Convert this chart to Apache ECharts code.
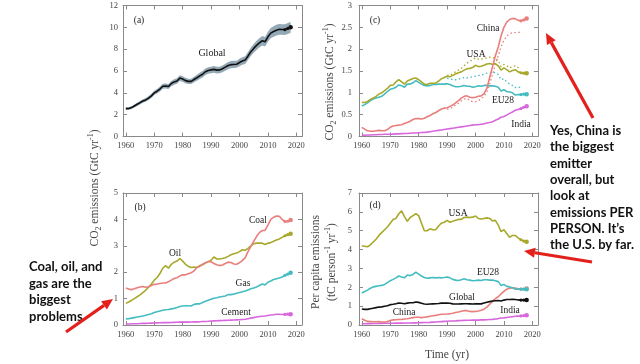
<!DOCTYPE html>
<html><head><meta charset="utf-8">
<script src="https://cdn.jsdelivr.net/npm/echarts@6/dist/echarts.min.js"></script>
<style>html,body{margin:0;padding:0;background:#fff}#c{width:640px;height:364px}</style>
</head><body><div id="c"></div>
<script>
// ---- data ----
const firstYear = 1960, lastYear = 2018;
const years = []; for (let y = firstYear; y <= lastYear; y++) years.push(y);
const consYears = []; for (let y = 1990; y <= 2016; y++) consYears.push(y);
const xTicks = [1960, 1970, 1980, 1990, 2000, 2010, 2020];

// (a) global fossil CO2 emissions, GtC/yr
const globalTotal = [2.55,2.56,2.65,2.80,2.95,3.10,3.25,3.35,3.52,3.72,4.00,4.15,4.35,4.60,4.62,4.58,4.85,5.00,5.08,5.35,5.27,5.12,5.05,5.05,5.22,5.38,5.55,5.70,5.93,6.05,6.10,6.15,6.08,6.10,6.20,6.35,6.50,6.58,6.60,6.62,6.78,6.92,7.00,7.38,7.77,8.07,8.35,8.58,8.77,8.68,9.13,9.47,9.62,9.74,9.82,9.80,9.79,9.90,10.0];
const globalUnc = [0.13,0.13,0.13,0.14,0.15,0.16,0.16,0.17,0.18,0.19,0.20,0.21,0.22,0.23,0.23,0.23,0.24,0.25,0.25,0.27,0.26,0.26,0.25,0.25,0.26,0.27,0.28,0.29,0.30,0.30,0.30,0.31,0.30,0.30,0.31,0.32,0.33,0.33,0.33,0.33,0.34,0.35,0.35,0.37,0.39,0.40,0.42,0.43,0.44,0.43,0.46,0.47,0.48,0.49,0.49,0.49,0.49,0.50,0.50];

// (b) by fuel, GtC/yr
const coal = [1.40,1.36,1.34,1.37,1.41,1.44,1.46,1.43,1.45,1.50,1.54,1.55,1.57,1.59,1.59,1.64,1.70,1.76,1.79,1.86,1.90,1.90,1.94,1.98,2.05,2.18,2.22,2.30,2.36,2.40,2.40,2.33,2.28,2.25,2.27,2.33,2.38,2.37,2.31,2.30,2.36,2.44,2.55,2.78,2.98,3.17,3.35,3.50,3.58,3.58,3.78,4.00,4.08,4.13,4.12,4.00,3.92,3.93,3.98];
const oil = [0.82,0.87,0.93,1.00,1.07,1.14,1.23,1.32,1.43,1.55,1.70,1.80,1.95,2.15,2.25,2.15,2.30,2.38,2.42,2.52,2.42,2.30,2.22,2.18,2.20,2.18,2.25,2.28,2.35,2.40,2.45,2.58,2.50,2.50,2.52,2.55,2.60,2.66,2.70,2.73,2.78,2.85,2.83,2.90,3.00,3.08,3.10,3.10,3.10,3.05,3.10,3.12,3.17,3.22,3.26,3.32,3.38,3.42,3.46];
const gas = [0.23,0.24,0.26,0.28,0.30,0.32,0.34,0.37,0.40,0.43,0.47,0.50,0.53,0.56,0.58,0.59,0.61,0.63,0.66,0.70,0.72,0.73,0.73,0.72,0.78,0.80,0.80,0.85,0.90,0.94,0.98,1.01,1.03,1.06,1.08,1.10,1.15,1.15,1.17,1.20,1.23,1.26,1.29,1.33,1.37,1.40,1.44,1.50,1.55,1.52,1.62,1.67,1.72,1.75,1.78,1.82,1.88,1.93,1.98];
const cement = [0.04,0.04,0.045,0.05,0.05,0.055,0.06,0.06,0.065,0.07,0.075,0.08,0.085,0.09,0.09,0.09,0.095,0.10,0.105,0.11,0.11,0.11,0.11,0.115,0.12,0.12,0.125,0.13,0.135,0.14,0.15,0.155,0.16,0.165,0.17,0.175,0.18,0.185,0.19,0.195,0.20,0.21,0.22,0.24,0.26,0.28,0.30,0.32,0.33,0.34,0.36,0.38,0.39,0.41,0.41,0.40,0.40,0.41,0.41];

// (c) by country, GtC/yr (territorial, solid) and consumption-based (dotted)
const chinaTot = [0.21,0.17,0.13,0.12,0.12,0.13,0.14,0.13,0.13,0.16,0.21,0.24,0.25,0.26,0.27,0.30,0.32,0.35,0.39,0.41,0.41,0.40,0.42,0.45,0.48,0.52,0.55,0.59,0.63,0.65,0.66,0.69,0.72,0.77,0.82,0.88,0.92,0.93,0.90,0.89,0.90,0.92,0.93,0.98,1.10,1.35,1.60,1.85,2.05,2.30,2.50,2.62,2.68,2.70,2.70,2.66,2.65,2.67,2.70];
const usaTot = [0.78,0.78,0.80,0.85,0.88,0.92,0.97,1.00,1.05,1.10,1.17,1.18,1.25,1.30,1.25,1.20,1.27,1.30,1.33,1.34,1.30,1.25,1.20,1.19,1.22,1.22,1.22,1.27,1.32,1.35,1.38,1.37,1.40,1.43,1.46,1.48,1.52,1.55,1.56,1.58,1.63,1.60,1.61,1.63,1.66,1.67,1.65,1.67,1.62,1.52,1.57,1.53,1.48,1.51,1.53,1.48,1.46,1.45,1.45];
const eu28Tot = [0.70,0.73,0.77,0.82,0.86,0.88,0.90,0.92,0.97,1.03,1.08,1.10,1.13,1.18,1.16,1.13,1.20,1.20,1.23,1.28,1.24,1.20,1.17,1.16,1.17,1.19,1.19,1.20,1.20,1.20,1.21,1.19,1.16,1.14,1.14,1.15,1.17,1.15,1.15,1.13,1.14,1.16,1.15,1.17,1.17,1.16,1.16,1.15,1.13,1.04,1.07,1.03,1.02,1.00,0.95,0.96,0.96,0.97,0.97];
const indiaTot = [0.03,0.03,0.035,0.035,0.04,0.04,0.045,0.045,0.05,0.05,0.05,0.055,0.06,0.06,0.065,0.07,0.07,0.075,0.08,0.08,0.085,0.09,0.095,0.10,0.11,0.12,0.13,0.14,0.15,0.16,0.17,0.18,0.19,0.20,0.21,0.22,0.23,0.24,0.25,0.26,0.27,0.27,0.28,0.29,0.31,0.32,0.34,0.37,0.40,0.44,0.46,0.49,0.53,0.56,0.60,0.62,0.64,0.67,0.69];
const chinaCons = [0.62,0.64,0.67,0.72,0.76,0.82,0.86,0.87,0.82,0.80,0.80,0.82,0.86,0.92,1.02,1.20,1.42,1.65,1.85,2.05,2.20,2.30,2.35,2.38,2.38,2.38,2.40];
const usaCons = [1.40,1.40,1.44,1.48,1.52,1.56,1.62,1.68,1.72,1.76,1.80,1.77,1.77,1.78,1.80,1.82,1.80,1.80,1.74,1.60,1.65,1.62,1.57,1.60,1.62,1.58,1.56];
const eu28Cons = [1.33,1.32,1.30,1.30,1.31,1.33,1.35,1.34,1.36,1.36,1.38,1.40,1.40,1.43,1.45,1.45,1.47,1.46,1.42,1.30,1.32,1.25,1.20,1.17,1.12,1.13,1.12];

// (d) per capita, tC/person/yr
const usaPc = [4.20,4.18,4.15,4.25,4.40,4.55,4.75,4.90,5.05,5.20,5.40,5.60,5.65,5.90,6.05,5.75,5.50,5.70,5.80,5.90,5.80,5.40,5.00,5.00,5.10,5.05,5.05,5.25,5.40,5.45,5.55,5.45,5.50,5.55,5.60,5.60,5.70,5.72,5.70,5.72,5.78,5.65,5.62,5.65,5.68,5.65,5.52,5.55,5.30,4.95,5.05,4.85,4.65,4.75,4.75,4.62,4.52,4.45,4.42];
const eu28Pc = [1.70,1.78,1.85,1.95,2.02,2.05,2.08,2.10,2.15,2.25,2.35,2.42,2.50,2.60,2.55,2.50,2.65,2.62,2.68,2.80,2.70,2.60,2.52,2.48,2.50,2.52,2.50,2.52,2.50,2.52,2.55,2.50,2.42,2.38,2.36,2.40,2.45,2.40,2.38,2.35,2.36,2.38,2.36,2.40,2.40,2.38,2.38,2.35,2.30,2.10,2.15,2.05,2.02,1.98,1.90,1.90,1.90,1.90,1.90];
const globalPc = [0.85,0.83,0.83,0.86,0.89,0.92,0.95,0.96,0.99,1.02,1.08,1.10,1.13,1.17,1.15,1.13,1.16,1.18,1.18,1.22,1.20,1.15,1.11,1.10,1.11,1.12,1.13,1.14,1.16,1.17,1.16,1.15,1.12,1.11,1.11,1.12,1.13,1.13,1.12,1.11,1.12,1.12,1.12,1.17,1.21,1.24,1.27,1.29,1.30,1.27,1.32,1.35,1.35,1.36,1.35,1.33,1.32,1.32,1.33];
const chinaPc = [0.33,0.25,0.19,0.18,0.17,0.17,0.18,0.16,0.15,0.19,0.24,0.27,0.28,0.29,0.29,0.32,0.33,0.36,0.39,0.41,0.41,0.39,0.41,0.43,0.46,0.49,0.51,0.54,0.57,0.57,0.58,0.60,0.62,0.66,0.69,0.73,0.76,0.76,0.72,0.71,0.72,0.74,0.78,0.84,0.95,1.10,1.25,1.40,1.50,1.65,1.78,1.90,1.95,1.97,1.96,1.92,1.90,1.91,1.93];
const indiaPc = [0.07,0.07,0.075,0.075,0.08,0.08,0.085,0.085,0.09,0.09,0.09,0.095,0.10,0.10,0.10,0.11,0.11,0.11,0.115,0.115,0.12,0.125,0.13,0.135,0.14,0.15,0.16,0.17,0.18,0.19,0.20,0.21,0.215,0.22,0.23,0.24,0.245,0.25,0.25,0.26,0.26,0.26,0.27,0.27,0.28,0.29,0.30,0.32,0.34,0.37,0.38,0.40,0.42,0.44,0.46,0.47,0.48,0.50,0.52];

// ---- styling ----
const RED = '#e97f7c', OLIVE = '#a8a92c', CYAN = '#45bcc0', MAG = '#d866dc', BLACK = '#111', BAND = '#8ea4b2';
const SERIF = '"Liberation Serif","Times New Roman",serif';
const AX = '#8a8a8a', TXT = '#444';

const grids = [
  {left: 123, top: 5.5, width: 179, height: 131},
  {left: 123, top: 193, width: 179, height: 132},
  {left: 359, top: 5.5, width: 179, height: 131},
  {left: 359, top: 193, width: 179, height: 132}
];
const yRanges = [[0,12,2],[0,5,1],[0,3,0.5],[0,7,1]];
const yMargins = [5,5,7,7];

const xAxes = [], yAxes = [];
for (let i = 0; i < 4; i++) {
  xAxes.push({gridIndex: i, type: 'value', min: 1959, max: 2022,
    axisLine: {show: true, onZero: false, lineStyle: {color: AX, width: 1}},
    axisTick: {show: true, inside: true, length: 4, customValues: xTicks, lineStyle: {color: AX}},
    axisLabel: {customValues: xTicks, formatter: v => String(v), fontFamily: SERIF, fontSize: 8.5, color: TXT, margin: 5},
    splitLine: {show: false}});
}
for (let i = 0; i < 4; i++) {
  xAxes.push({gridIndex: i, type: 'value', position: 'top', min: 1959, max: 2022,
    axisLine: {show: true, onZero: false, lineStyle: {color: AX, width: 1}},
    axisTick: {show: true, inside: true, length: 4, customValues: xTicks, lineStyle: {color: AX}},
    axisLabel: {show: false}, splitLine: {show: false}});
}
for (let i = 0; i < 4; i++) {
  const r = yRanges[i];
  yAxes.push({gridIndex: i, type: 'value', min: r[0], max: r[1], interval: r[2],
    axisLine: {show: true, onZero: false, lineStyle: {color: AX, width: 1}},
    axisTick: {show: true, inside: true, length: 4, lineStyle: {color: AX}},
    axisLabel: {fontFamily: SERIF, fontSize: 8.5, color: TXT, margin: yMargins[i]},
    splitLine: {show: false}});
}
for (let i = 0; i < 4; i++) {
  const r = yRanges[i];
  yAxes.push({gridIndex: i, type: 'value', position: 'right', min: r[0], max: r[1], interval: r[2],
    axisLine: {show: true, onZero: false, lineStyle: {color: AX, width: 1}},
    axisTick: {show: true, inside: true, length: 4, lineStyle: {color: AX}},
    axisLabel: {show: false}, splitLine: {show: false}});
}

function pairs(xs, ys) { return xs.map((x, i) => [x, ys[i]]); }
function line(gi, xs, ys, color, z) {
  const n = ys.length;
  return {type: 'line', xAxisIndex: gi, yAxisIndex: gi, data: pairs(xs, ys),
    symbol: 'circle', showSymbol: true, showAllSymbol: true,
    symbolSize: (v, p) => (p.dataIndex >= n - 3 ? (p.dataIndex === n - 1 ? 4.5 : 3.2) : 0),
    itemStyle: {color: color}, lineStyle: {color: color, width: 1.6},
    z: z || 3, silent: true, animation: false};
}
function dotted(gi, xs, ys, color) {
  return {type: 'line', xAxisIndex: gi, yAxisIndex: gi, data: pairs(xs, ys),
    symbol: 'none', lineStyle: {color: color, width: 1.3, type: [1.5, 2.5]},
    z: 2, silent: true, animation: false};
}

// uncertainty band drawn through the axis scales
const bandSeries = {
  type: 'custom', xAxisIndex: 0, yAxisIndex: 0, silent: true, animation: false, z: 1,
  data: [[years[0], globalTotal[0]]],
  renderItem: function (params, api) {
    const up = [], lo = [];
    for (let i = 0; i < years.length; i++) {
      up.push(api.coord([years[i], globalTotal[i] + globalUnc[i]]));
      lo.push(api.coord([years[i], globalTotal[i] - globalUnc[i]]));
    }
    return {type: 'polygon', shape: {points: up.concat(lo.reverse())}, style: {fill: BAND, opacity: 0.95}};
  }
};

const series = [
  bandSeries,
  line(0, years, globalTotal, BLACK, 4),
  // (b)
  line(1, years, cement, MAG), line(1, years, gas, CYAN), line(1, years, oil, OLIVE), line(1, years, coal, RED),
  // (c)
  dotted(2, consYears, chinaCons, RED), dotted(2, consYears, usaCons, OLIVE), dotted(2, consYears, eu28Cons, CYAN),
  line(2, years, indiaTot, MAG), line(2, years, eu28Tot, CYAN), line(2, years, usaTot, OLIVE), line(2, years, chinaTot, RED),
  // (d)
  line(3, years, indiaPc, MAG), line(3, years, chinaPc, RED), line(3, years, globalPc, BLACK), line(3, years, eu28Pc, CYAN), line(3, years, usaPc, OLIVE)
];

function lbl(text, x, y, size) {
  return {type: 'text', x: x, y: y, silent: true, z: 10,
    style: {text: text, fontFamily: SERIF, fontSize: size || 9.5, fill: '#222', align: 'center', verticalAlign: 'middle'}};
}
const RICH = {
  n: {fontFamily: SERIF, fontSize: 11.5, fill: '#444', color: '#444', lineHeight: 16, verticalAlign: 'middle'},
  s: {fontFamily: SERIF, fontSize: 8, fill: '#444', color: '#444', lineHeight: 8, verticalAlign: 'bottom'},
  p: {fontFamily: SERIF, fontSize: 8, fill: '#444', color: '#444', lineHeight: 8, verticalAlign: 'top'}
};
function rotTitle(text, x, y) {
  return {type: 'text', x: x, y: y, rotation: Math.PI / 2, silent: true, z: 10,
    style: {text: text, rich: RICH, align: 'center', verticalAlign: 'middle'}};
}
function arrow(x1, y1, x2, y2) {
  const dx = x2 - x1, dy = y2 - y1, L = Math.sqrt(dx * dx + dy * dy);
  const ux = dx / L, uy = dy / L, hl = 11, hw = 5;
  const bx = x2 - ux * hl, by = y2 - uy * hl;
  return [
    {type: 'line', silent: true, z: 20, shape: {x1: x1, y1: y1, x2: bx, y2: by},
     style: {stroke: '#e3211c', lineWidth: 3.2}},
    {type: 'polygon', silent: true, z: 20,
     shape: {points: [[x2, y2], [bx - uy * hw, by + ux * hw], [bx + uy * hw, by - ux * hw]]},
     style: {fill: '#e3211c'}}
  ];
}
const NOTE = 'bold 13px Lato, "Open Sans", sans-serif';
const graphics = [
  lbl('(a)', 139, 20), lbl('Global', 212, 53, 10),
  lbl('(b)', 140, 207), lbl('Oil', 175, 253), lbl('Coal', 258, 220), lbl('Gas', 243, 283), lbl('Cement', 236, 312),
  lbl('(c)', 375, 20), lbl('China', 488, 28), lbl('USA', 476, 54), lbl('EU28', 503, 100), lbl('India', 521, 124),
  lbl('(d)', 375, 205), lbl('USA', 458, 213), lbl('EU28', 488, 272), lbl('Global', 462, 297), lbl('China', 404, 312), lbl('India', 510, 310),
  rotTitle('{n|CO}{s|2}{n| emissions (GtC yr}{p|-1}{n|)}', 95, 188),
  rotTitle('{n|CO}{s|2}{n| emissions (GtC yr}{p|-1}{n|)}', 330, 82),
  {type: 'text', x: 324, y: 262, rotation: Math.PI / 2, silent: true, z: 10,
   style: {text: '{n|Per capita emissions}\n{n|(tC person}{p|-1}{n| yr}{p|-1}{n|)}', rich: RICH, align: 'center', verticalAlign: 'middle'}},
  {type: 'text', x: 447, y: 355, silent: true,
   style: {text: 'Time (yr)', fontFamily: SERIF, fontSize: 11.5, fill: '#444', align: 'center', verticalAlign: 'middle'}},
  {type: 'text', x: 29, y: 259, silent: true, z: 15,
   style: {text: 'Coal, oil, and\ngas are the\nbiggest\nproblems', font: NOTE, fill: '#111', lineHeight: 16.4, align: 'left', verticalAlign: 'top'}},
  {type: 'text', x: 550, y: 122.5, silent: true, z: 15,
   style: {text: 'Yes, China is\nthe biggest\nemitter\noverall, but\nlook at\nemissions PER\nPERSON. It\u2019s\nthe U.S. by far.', font: NOTE, fill: '#111', lineHeight: 16.35, align: 'left', verticalAlign: 'top'}}
].concat(arrow(66, 332, 113, 299), arrow(593, 118, 546, 33), arrow(592, 262, 524, 251));

const chart = echarts.init(document.getElementById('c'), null, {renderer: 'canvas'});
chart.setOption({
  animation: false,
  backgroundColor: '#fff',
  grid: grids,
  xAxis: xAxes,
  yAxis: yAxes,
  series: series,
  graphic: graphics
});
</script>
</body></html>
